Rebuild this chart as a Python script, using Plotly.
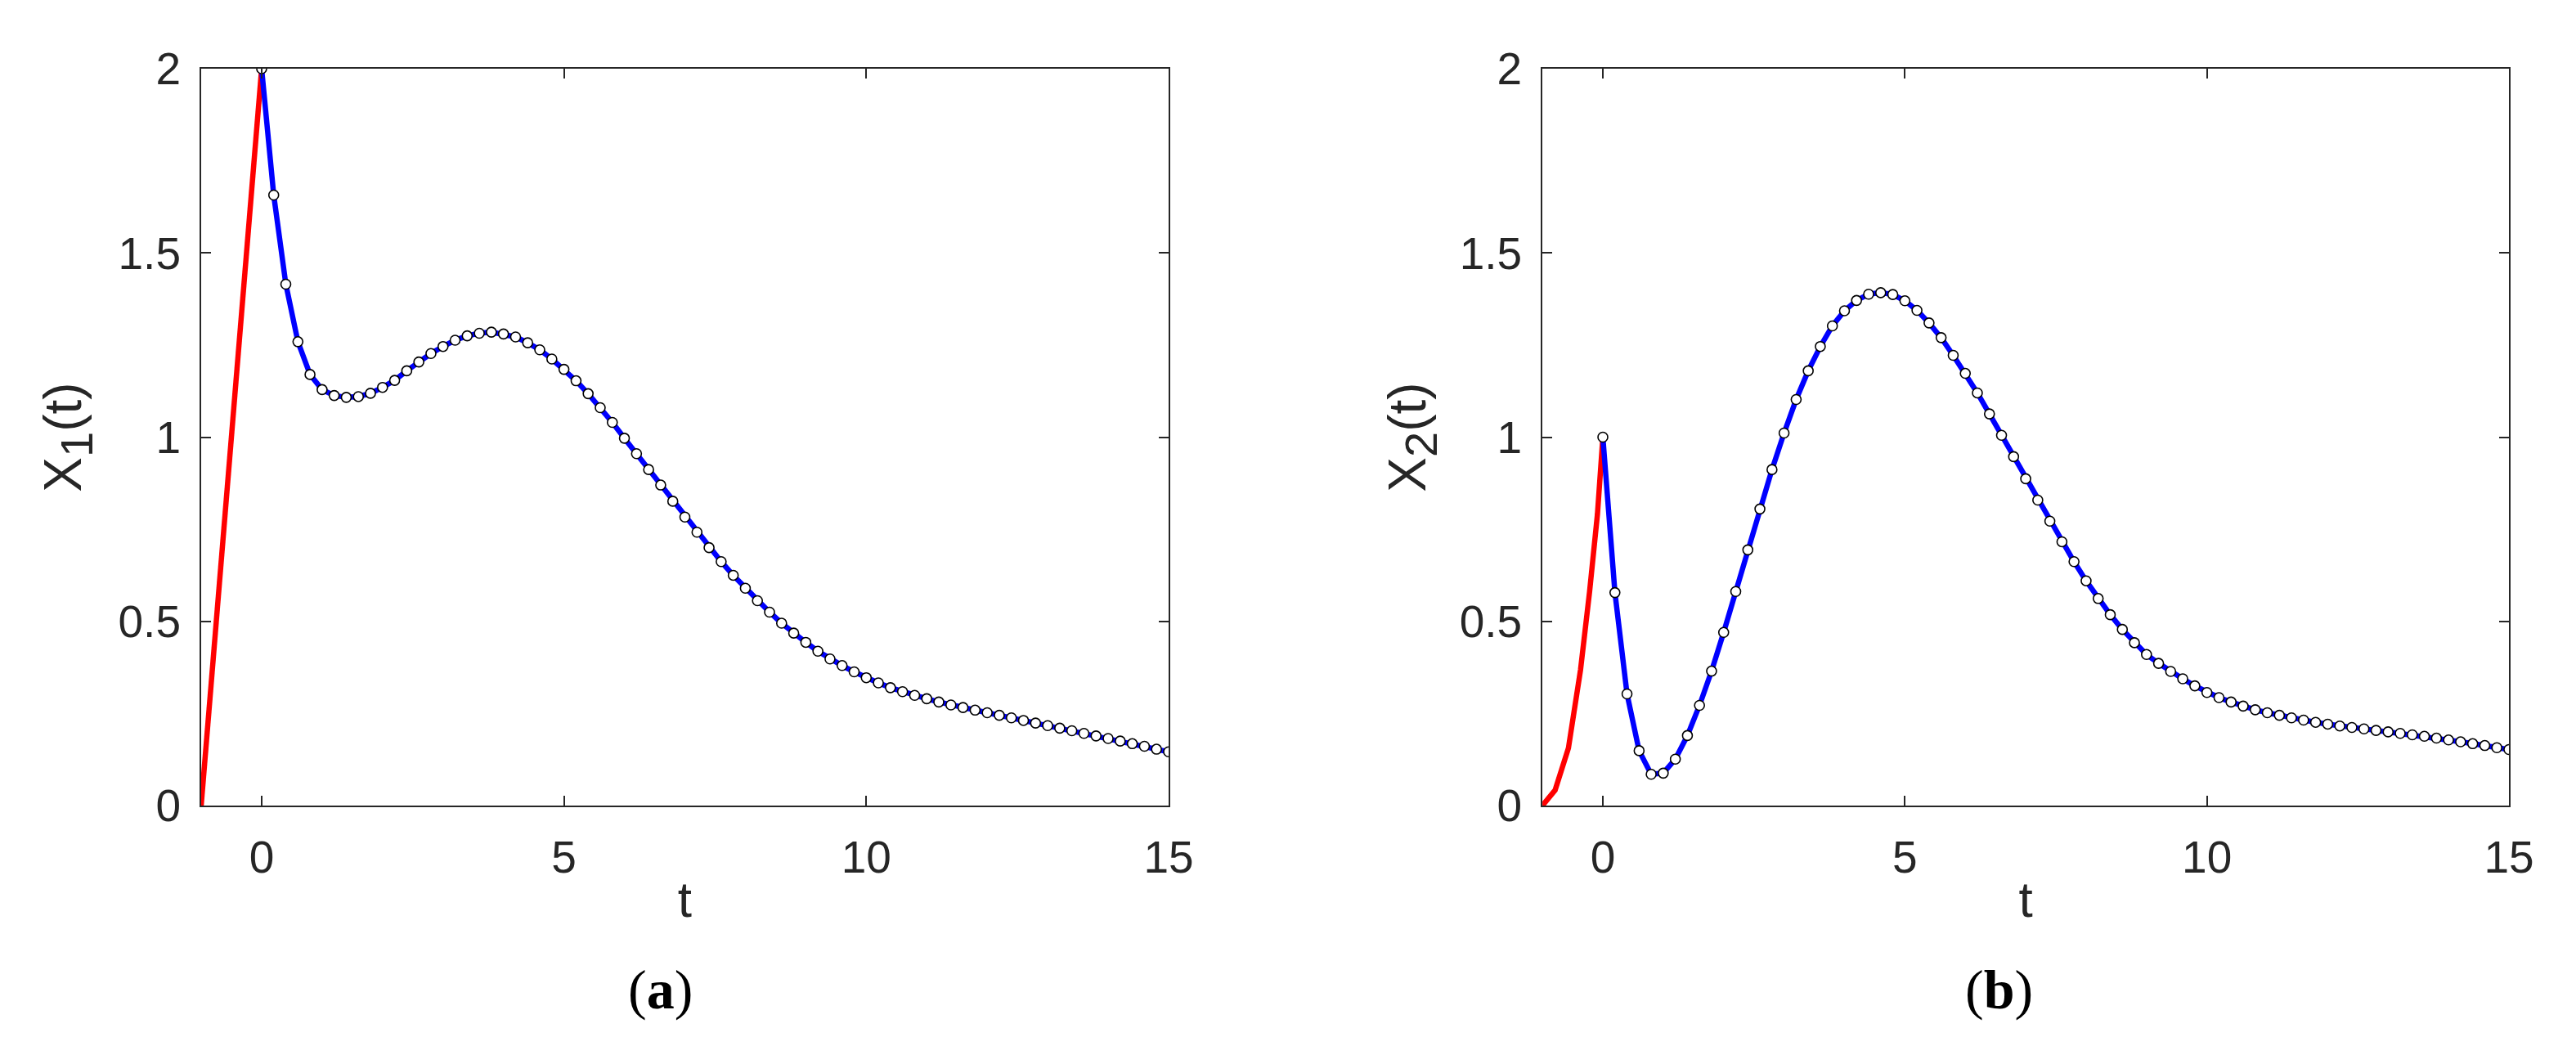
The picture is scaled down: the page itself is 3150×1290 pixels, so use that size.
import plotly.graph_objects as go

# history segments (t in [-1, 0])
hist_t_a = [-1.0, 0.0]
hist_x1 = [0.0, 2.0]

hist_t_b = [-1.0, -0.79, -0.57, -0.37, -0.22, -0.09, 0.0]
hist_x2 = [0.0, 0.042, 0.156, 0.368, 0.58, 0.79, 1.0]

# solution sampled every 0.2 from t=0 to t=15
t_sol = [round(0.2 * i, 1) for i in range(76)]

x1_sol = [
    2.000, 1.657, 1.415, 1.259, 1.170, 1.129, 1.113, 1.108, 1.110, 1.119,
    1.135, 1.154, 1.180, 1.204, 1.227, 1.246, 1.263, 1.275, 1.282, 1.285,
    1.280, 1.272, 1.256, 1.237, 1.212, 1.184, 1.153, 1.118, 1.080, 1.040,
    0.997, 0.955, 0.912, 0.870, 0.826, 0.783, 0.742, 0.700, 0.662, 0.625,
    0.590, 0.556, 0.525, 0.495, 0.468, 0.443, 0.419, 0.398, 0.380, 0.363,
    0.347, 0.333, 0.320, 0.309, 0.299, 0.290, 0.281, 0.273, 0.266, 0.259,
    0.252, 0.245, 0.238, 0.231, 0.224, 0.217, 0.210, 0.203, 0.196, 0.189,
    0.182, 0.175, 0.168, 0.161, 0.153, 0.146,
]

x2_sol = [
    1.000, 0.578, 0.303, 0.149, 0.085, 0.088, 0.126, 0.190, 0.272, 0.365,
    0.470, 0.581, 0.694, 0.805, 0.912, 1.011, 1.102, 1.180, 1.246, 1.302,
    1.343, 1.371, 1.388, 1.392, 1.387, 1.370, 1.344, 1.310, 1.270, 1.222,
    1.173, 1.120, 1.063, 1.005, 0.947, 0.887, 0.829, 0.772, 0.716, 0.662,
    0.610, 0.562, 0.518, 0.478, 0.442, 0.410, 0.386, 0.364, 0.344, 0.325,
    0.307, 0.293, 0.281, 0.270, 0.260, 0.252, 0.245, 0.238, 0.232, 0.226,
    0.221, 0.216, 0.212, 0.208, 0.204, 0.200, 0.196, 0.192, 0.188, 0.183,
    0.178, 0.173, 0.168, 0.163, 0.157, 0.152,
]

x_ticks = [0, 5, 10, 15]
y_ticks = [0, 0.5, 1, 1.5, 2]
y_tick_text = ["0", "0.5", "1", "1.5", "2"]

FONT = "Liberation Sans, Arial, Helvetica, sans-serif"
AXIS_COLOR = "#262626"

fig = go.Figure()

panels = [
    ("x", "y", hist_t_a, hist_x1, x1_sol),
    ("x2", "y2", hist_t_b, hist_x2, x2_sol),
]
for xa, ya, ht, hx, sol in panels:
    fig.add_trace(go.Scatter(x=ht, y=hx, mode="lines", xaxis=xa, yaxis=ya,
                             line=dict(color="#ff0000", width=6.5), showlegend=False))
    fig.add_trace(go.Scatter(x=t_sol, y=sol, mode="lines", xaxis=xa, yaxis=ya,
                             line=dict(color="#0000ff", width=6.5), showlegend=False))
    fig.add_trace(go.Scatter(x=t_sol, y=sol, mode="markers", xaxis=xa, yaxis=ya,
                             marker=dict(size=12, color="white", line=dict(color="black", width=1.6)),
                             showlegend=False))

x_common = dict(range=[-1, 15], tickvals=x_ticks, ticks="inside", ticklen=12, tickwidth=2,
                tickcolor=AXIS_COLOR, showline=True, linecolor=AXIS_COLOR, linewidth=2,
                mirror="ticks", showgrid=False, zeroline=False, ticklabelstandoff=14,
                tickfont=dict(family=FONT, size=55, color=AXIS_COLOR),
                title=dict(text="t", font=dict(family=FONT, size=62, color=AXIS_COLOR), standoff=0))
y_common = dict(range=[0, 2], tickvals=y_ticks, ticktext=y_tick_text, ticks="inside", ticklen=12,
                tickwidth=2, tickcolor=AXIS_COLOR, showline=True, linecolor=AXIS_COLOR, linewidth=2,
                mirror="ticks", showgrid=False, zeroline=False, ticklabelstandoff=12,
                tickfont=dict(family=FONT, size=55, color=AXIS_COLOR))

ylabel_font = dict(family=FONT, size=64, color=AXIS_COLOR)

fig.update_layout(
    width=3150, height=1290,
    margin=dict(l=238, r=90, t=76, b=313),
    plot_bgcolor="white", paper_bgcolor="white",
    xaxis=dict(domain=[0, 0.4192], anchor="y", **x_common),
    xaxis2=dict(domain=[0.5812, 1], anchor="y2", **x_common),
    yaxis=dict(domain=[0, 1], anchor="x",
               title=dict(text="X<sub><span style='font-size:56px'>1</span></sub>(t)",
                          font=ylabel_font, standoff=24),
               **y_common),
    yaxis2=dict(domain=[0, 1], anchor="x2",
                title=dict(text="X<sub><span style='font-size:56px'>2</span></sub>(t)",
                           font=ylabel_font, standoff=20),
                **y_common),
)

# panel captions
for label, xpos in [("a", 0.1991), ("b", 0.7789)]:
    fig.add_annotation(text="(<b>%s</b>)" % label, xref="paper", yref="paper", x=xpos, y=-0.25,
                       showarrow=False, xanchor="center", yanchor="middle",
                       font=dict(family="Liberation Serif, Times New Roman, serif", size=68, color="black"))

fig.write_html("out.html")
